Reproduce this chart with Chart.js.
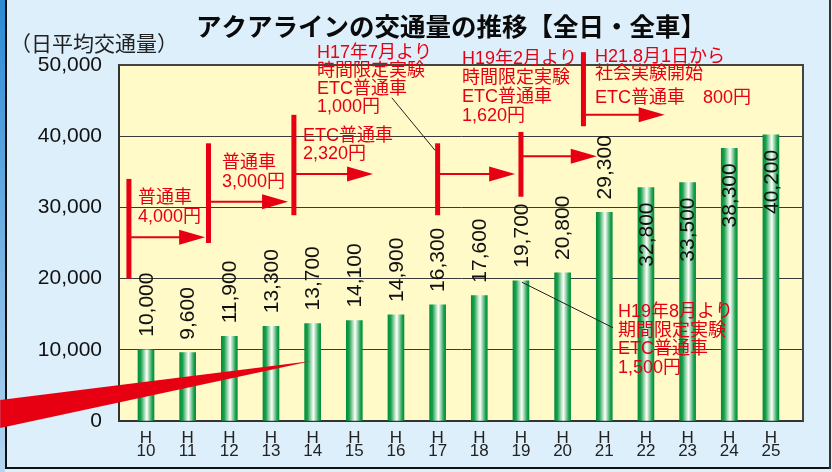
<!DOCTYPE html>
<html>
<head>
<meta charset="utf-8">
<script src="https://cdn.jsdelivr.net/npm/chart.js@4"></script>
<style>
  html, body { margin: 0; padding: 0; background: #DDEFFB; }
  #wrap { width: 832px; height: 472px; position: relative; }
</style>
</head>
<body>
<div id="wrap"><canvas id="aqua" width="832" height="472"></canvas></div>
<script>
// data
const years = [10, 11, 12, 13, 14, 15, 16, 17, 18, 19, 20, 21, 22, 23, 24, 25];
const traffic = [10000, 9600, 11900, 13300, 13700, 14100, 14900, 16300, 17600, 19700, 20800, 29300, 32800, 33500, 38300, 40200];
const yTicks = [0, 10000, 20000, 30000, 40000, 50000];

const RED = '#E60012';
const JP = '"Noto Sans CJK JP", "Noto Sans", sans-serif';
const MIX = '"Liberation Sans", "Noto Sans CJK JP", sans-serif';
const NUM = '"Liberation Sans", Arial, sans-serif';

// toll change markers (x in year units, y in traffic units)
const tollMarks = [
  { x: 9.59, top: 34000, bottom: 20000, arrowY: 25800, to: 11.42 },
  { x: 11.5, top: 39000, bottom: 25000, arrowY: 30800, to: 13.41 },
  { x: 13.55, top: 43000, bottom: 28900, arrowY: 34700, to: 15.45 },
  { x: 17, top: 39000, bottom: 28900, arrowY: 34700, to: 18.86 },
  { x: 19, top: 40600, bottom: 31500, arrowY: 37200, to: 20.82 },
  { x: 20.5, top: 51800, bottom: 41400, arrowY: 43000, to: 22.45 }
];

const notes = [
  { x: 138, y: 198, lines: ['普通車', '4,000円'], gap: 19 },
  { x: 222, y: 163, lines: ['普通車', '3,000円'], gap: 19 },
  { x: 303, y: 136, lines: ['ETC普通車', '2,320円'], gap: 18 },
  { x: 317, y: 53, lines: ['H17年7月より', '時間限定実験', 'ETC普通車', '1,000円'], gap: 18 },
  { x: 462, y: 59, lines: ['H19年2月より', '時間限定実験', 'ETC普通車', '1,620円'], gap: 19 },
  { x: 595, y: 57, lines: ['H21.8月1日から', '社会実験開始'], gap: 17 },
  { x: 595, y: 98, lines: ['ETC普通車　800円'], gap: 18 },
  { x: 618, y: 312, lines: ['H19年8月より', '期間限定実験', 'ETC普通車', '1,500円'], gap: 18.7 }
];

function barFill(c) {
  const chart = c.chart;
  const xs = chart.scales && chart.scales.x;
  if (c.type !== 'data' || !xs || !c.raw) return '#2FA85A';
  const px = xs.getPixelForValue(c.raw.x);
  if (!Number.isFinite(px)) return '#2FA85A';
  const g = chart.ctx.createLinearGradient(px - 8, 0, px + 8, 0);
  g.addColorStop(0, '#008E3A');
  g.addColorStop(0.18, '#19A04E');
  g.addColorStop(0.38, '#9ED6AE');
  g.addColorStop(0.55, '#FFFFFF');
  g.addColorStop(0.72, '#8FD0A2');
  g.addColorStop(0.88, '#1FA352');
  g.addColorStop(1, '#008E3A');
  return g;
}

const framePlugin = {
  id: 'frame',
  beforeDraw(chart) {
    const ctx = chart.ctx;
    const a = chart.chartArea;
    ctx.save();
    ctx.fillStyle = '#DDEFFB';
    ctx.fillRect(0, 0, 832, 472);
    const s = ctx.createLinearGradient(0, 0, 0, 472);
    s.addColorStop(0, '#2A8AD4');
    s.addColorStop(1, '#B5D6F1');
    ctx.fillStyle = s;
    ctx.fillRect(0, 0, 5, 472);
    ctx.fillStyle = '#111';
    ctx.fillRect(5, 0, 2, 469);
    ctx.fillRect(5, 467, 826, 2);
    ctx.fillStyle = '#333';
    ctx.fillRect(829, 0, 2, 469);
    // plot background
    ctx.fillStyle = '#FFFAC8';
    ctx.fillRect(a.left, a.top, a.right - a.left, a.bottom - a.top);
    // title
    ctx.fillStyle = '#0a0a0a';
    ctx.font = 'bold 25.5px ' + JP;
    ctx.textAlign = 'center';
    ctx.textBaseline = 'middle';
    ctx.fillText('アクアラインの交通量の推移【全日・全車】', 451, 26);
    ctx.font = '21px ' + JP;
    ctx.textAlign = 'left';
    ctx.fillStyle = '#222';
    ctx.fillText('（日平均交通量）', 10, 43);
    ctx.restore();
  },
  afterDatasetsDraw(chart) {
    const ctx = chart.ctx;
    const a = chart.chartArea;
    const xs = chart.scales.x, ys = chart.scales.y;
    const px = v => xs.getPixelForValue(v);
    const py = v => ys.getPixelForValue(v);
    const meta = chart.getDatasetMeta(0);
    ctx.save();
    // top and right edge of plot
    ctx.strokeStyle = '#444';
    ctx.lineWidth = 2;
    ctx.beginPath();
    ctx.moveTo(a.left, a.top);
    ctx.lineTo(a.right, a.top);
    ctx.lineTo(a.right, a.bottom);
    ctx.stroke();

    // value labels, rotated
    ctx.fillStyle = '#111';
    ctx.font = '21px ' + NUM;
    ctx.textBaseline = 'middle';
    meta.data.forEach((el, i) => {
      const txt = traffic[i].toLocaleString('en-US');
      ctx.save();
      if (i < 12) {
        ctx.translate(el.x, el.y - 13);
        ctx.rotate(-Math.PI / 2);
        ctx.textAlign = 'left';
      } else {
        ctx.translate(el.x, el.y + 15);
        ctx.rotate(-Math.PI / 2);
        ctx.textAlign = 'right';
      }
      ctx.fillText(txt, 0, 1);
      ctx.restore();
    });

    // leader lines
    ctx.strokeStyle = '#222';
    ctx.lineWidth = 1;
    ctx.beginPath();
    ctx.moveTo(px(15.9), py(45400));
    ctx.lineTo(px(16.94), py(38000));
    ctx.moveTo(px(19.02), py(19500));
    ctx.lineTo(px(21.21), py(13100));
    ctx.stroke();

    // toll change markers
    ctx.fillStyle = RED;
    ctx.strokeStyle = RED;
    tollMarks.forEach(m => {
      const x = px(m.x), y0 = py(m.top), y1 = py(m.bottom), ay = py(m.arrowY), x2 = px(m.to);
      ctx.fillRect(x - 2.5, y0, 5, y1 - y0);
      ctx.lineWidth = 2;
      ctx.beginPath();
      ctx.moveTo(x, ay);
      ctx.lineTo(x2 - 20, ay);
      ctx.stroke();
      ctx.beginPath();
      ctx.moveTo(x2, ay);
      ctx.lineTo(x2 - 26, ay - 7.5);
      ctx.lineTo(x2 - 26, ay + 7.5);
      ctx.closePath();
      ctx.fill();
    });

    // notes
    ctx.font = '18px ' + MIX;
    ctx.textAlign = 'left';
    ctx.textBaseline = 'middle';
    notes.forEach(n => {
      n.lines.forEach((t, k) => ctx.fillText(t, n.x, n.y + k * n.gap));
    });

    // big pointer wedge
    ctx.beginPath();
    ctx.moveTo(px(6.5), py(2950));
    ctx.lineTo(px(13.98), py(8430));
    ctx.lineTo(px(6.5), py(-980));
    ctx.closePath();
    ctx.fill();
    ctx.restore();
  }
};

new Chart(document.getElementById('aqua'), {
  type: 'bar',
  data: {
    datasets: [{
      data: years.map((y, i) => ({ x: y, y: traffic[i] })),
      backgroundColor: barFill,
      borderWidth: 0,
      barThickness: 16
    }]
  },
  options: {
    responsive: false,
    animation: false,
    devicePixelRatio: 1,
    layout: { padding: { left: 0, top: 65, right: 29, bottom: 0 } },
    plugins: { legend: { display: false }, tooltip: { enabled: false }, title: { display: false } },
    scales: {
      x: {
        type: 'linear',
        min: 9.352,
        max: 25.77,
        offset: false,
        grid: { display: false, offset: false, drawTicks: false },
        border: { color: '#333', width: 2 },
        afterBuildTicks: s => { s.ticks = years.map(v => ({ value: v })); },
        afterFit: s => { s.height = 51; },
        ticks: {
          autoSkip: false,
          maxRotation: 0,
          padding: 11,
          color: '#222',
          font: { family: NUM, size: 17, lineHeight: 0.74 },
          callback: v => ['H', String(v)]
        }
      },
      y: {
        min: 0,
        max: 50000,
        afterBuildTicks: s => { s.ticks = yTicks.map(v => ({ value: v })); },
        afterFit: s => { s.width = 119; },
        grid: { color: '#3a3a3a', lineWidth: 1, drawTicks: false },
        border: { color: '#333', width: 2 },
        ticks: {
          padding: 17,
          color: '#111',
          font: { family: NUM, size: 21 },
          callback: v => v.toLocaleString('en-US')
        }
      }
    }
  },
  plugins: [framePlugin]
});
</script>
</body>
</html>
